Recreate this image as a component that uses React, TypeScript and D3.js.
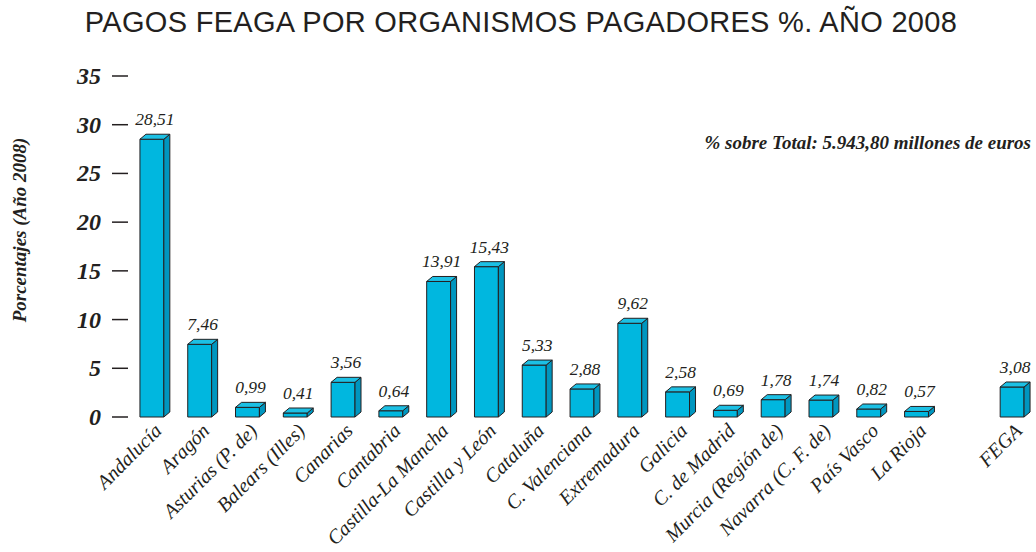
import React from 'react'
import * as d3 from 'd3'

const categories = [
  'Andalucía',
  'Aragón',
  'Asturias (P. de)',
  'Balears (Illes)',
  'Canarias',
  'Cantabria',
  'Castilla-La Mancha',
  'Castilla y León',
  'Cataluña',
  'C. Valenciana',
  'Extremadura',
  'Galicia',
  'C. de Madrid',
  'Murcia (Región de)',
  'Navarra (C. F. de)',
  'País Vasco',
  'La Rioja',
  'FEGA'
]
const values = [28.51, 7.46, 0.99, 0.41, 3.56, 0.64, 13.91, 15.43, 5.33, 2.88, 9.62, 2.58, 0.69, 1.78, 1.74, 0.82, 0.57, 3.08]
const yTicks = [0, 5, 10, 15, 20, 25, 30, 35]

const title = 'PAGOS FEAGA POR ORGANISMOS PAGADORES %. AÑO 2008'
const note = '% sobre Total: 5.943,80 millones de euros'
const yTitle = 'Porcentajes (Año 2008)'

const width = 1036
const height = 552
const serif = '"Liberation Serif", "DejaVu Serif", serif'

const fmt = (v: number) => v.toFixed(2).replace('.', ',')

const App = () => {
  // empty slot before FEGA
  const slots = [...categories.slice(0, 17), '__gap', 'FEGA']
  const x = d3.scaleBand().domain(slots).range([128, 1036]).paddingInner(0.5).paddingOuter(0.25)
  const y = d3.scaleLinear().domain([0, 35]).range([417, 76])
  const w = x.bandwidth()
  const dx = 6
  const dy = 5
  const y0 = y(0)

  return (
    <svg width={width} height={height} style={{ display: 'block', position: 'absolute', left: 0, top: 0 }}>
      <rect width={width} height={height} fill="#fff" />
      <text
        x={521}
        y={32}
        textAnchor="middle"
        fontFamily='"Liberation Sans", Arial, sans-serif'
        fontSize={29}
        letterSpacing={0.3}
        fill="#231f20"
      >
        {title}
      </text>

      <text
        transform={`translate(26, 230) rotate(-90)`}
        textAnchor="middle"
        fontFamily={serif}
        fontStyle="italic"
        fontWeight="bold"
        fontSize={19}
        fill="#231f20"
      >
        {yTitle}
      </text>

      <text x={1031} y={149} textAnchor="end" fontFamily={serif} fontStyle="italic" fontWeight="bold" fontSize={19} fill="#231f20">
        {note}
      </text>

      <g>
        {yTicks.map((t) => (
          <g key={t}>
            <line x1={112} x2={128} y1={y(t)} y2={y(t)} stroke="#231f20" strokeWidth={1.5} />
            <text x={101} y={y(t) + 8} textAnchor="end" fontFamily={serif} fontStyle="italic" fontWeight="bold" fontSize={24} fill="#231f20">
              {t}
            </text>
          </g>
        ))}
      </g>

      <g stroke="#231f20" strokeWidth={1} strokeLinejoin="round">
        {categories.map((c, i) => {
          const x0 = x(c) as number
          const yv = y(values[i])
          const top = `${x0},${yv} ${x0 + dx},${yv - dy} ${x0 + w + dx},${yv - dy} ${x0 + w},${yv}`
          const side = `${x0 + w},${yv} ${x0 + w + dx},${yv - dy} ${x0 + w + dx},${y0 - dy} ${x0 + w},${y0}`
          return (
            <g key={c}>
              <rect x={x0} y={yv} width={w} height={y0 - yv} fill="#00b7df" />
              <polygon points={side} fill="#0096bf" />
              <polygon points={top} fill="#1cc0e4" />
            </g>
          )
        })}
      </g>

      <g fontFamily={serif} fontStyle="italic" fontSize={17.5} fill="#231f20" textAnchor="middle">
        {categories.map((c, i) => (
          <text key={c} x={(x(c) as number) + w / 2 + dx / 2} y={y(values[i]) - dy - 9}>
            {fmt(values[i])}
          </text>
        ))}
      </g>

      <g fontFamily={serif} fontStyle="italic" fontSize={20} fill="#231f20" textAnchor="end">
        {categories.map((c) => (
          <text key={c} transform={`translate(${(x(c) as number) + w / 2 + 11}, ${y0 + 15}) rotate(-45)`}>
            {c}
          </text>
        ))}
      </g>
    </svg>
  )
}

export default App
